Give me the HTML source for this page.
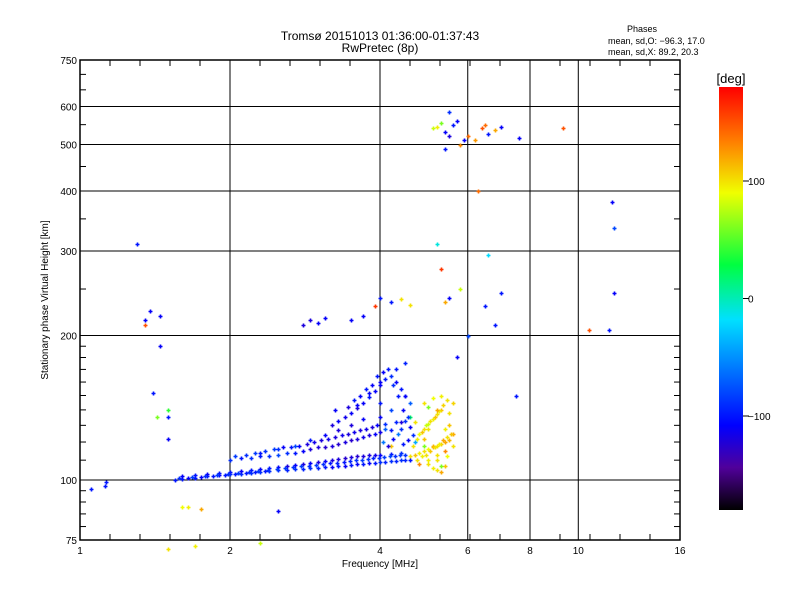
<!DOCTYPE html>
<html><head><meta charset="utf-8"><style>
body{margin:0;background:#fff;}
svg{display:block;font-family:"Liberation Sans",sans-serif;}
</style></head><body>
<svg id="c" width="800" height="600">
<rect x="0" y="0" width="800" height="600" fill="#fff"/>
<defs><linearGradient id="cb" x1="0" y1="1" x2="0" y2="0">
<stop offset="0" stop-color="#000"/><stop offset="0.1" stop-color="#50009a"/><stop offset="0.2" stop-color="#0000ff"/><stop offset="0.45" stop-color="#00e0ff"/><stop offset="0.58" stop-color="#00ff40"/><stop offset="0.75" stop-color="#f0ff00"/><stop offset="0.87" stop-color="#ff8000"/><stop offset="1" stop-color="#ff0000"/></linearGradient></defs>
<text x="380" y="40" font-size="12" text-anchor="middle">Tromsø 20151013 01:36:00-01:37:43</text>
<text x="380" y="52" font-size="12" text-anchor="middle">RwPretec (8p)</text>
<text x="642" y="32" font-size="9" text-anchor="middle">Phases</text>
<text x="608" y="44" font-size="9">mean, sd,O: −96.3, 17.0</text>
<text x="608" y="55" font-size="9">mean, sd,X:  89.2, 20.3</text>
<g id="grid"></g>
<g id="ticks"></g>
<g id="pts"></g>
<rect x="80" y="60" width="600" height="480" fill="none" stroke="#000" stroke-width="1.5"/>
<text x="380" y="567" font-size="10" text-anchor="middle">Frequency [MHz]</text>
<text transform="translate(48,300) rotate(-90)" font-size="10" text-anchor="middle">Stationary phase Virtual Height [km]</text>
<rect x="719" y="87" width="24" height="423" fill="url(#cb)"/>
<text x="731" y="83" font-size="13" text-anchor="middle">[deg]</text>
<g id="cbl"></g>
</svg>
<script>
const xTicks=[1,2,4,6,8,10,16];
const yTicks=[75,100,200,300,400,500,600,750];
const cbTicks=[100,0,-100];
const freqs=[1.05,1.12,1.13,1.3,1.35,1.38,1.4,1.45,1.5,1.5,1.55,1.6,1.65,1.7,1.75,1.8,1.85,1.9,1.95,2.0,2.05,2.1,2.15,2.2,2.25,2.3,2.35,2.4,2.5,2.6,2.7,2.8,2.9,3.0,3.1,3.2,3.3,3.4,3.5,3.6,3.7,3.8,3.9,4.0,4.1,4.2,4.3,4.4,4.5,4.6,
1.6,1.7,1.8,1.9,2.0,2.1,2.2,2.3,2.4,2.5,2.6,2.7,2.8,2.9,3.0,3.1,3.2,3.3,3.4,3.5,3.6,3.7,3.8,3.9,4.0,4.2,4.4,
2.0,2.1,2.2,2.3,2.4,2.5,2.6,2.7,2.8,2.9,3.0,3.1,3.2,3.3,3.4,3.5,3.6,3.7,3.8,3.9,4.0,4.2,4.4,4.6,2.3,2.5,2.7,2.9,3.1,3.3,3.5,3.7,
3.2,3.3,3.4,3.5,3.6,3.7,3.8,3.9,4.0,4.1,4.2,4.3,4.4,4.5,4.6,4.2,4.0,4.0,3.8,4.3,4.5,4.1,3.6,4.4,
4.6,4.7,4.8,4.9,5.0,5.1,5.2,5.3,5.4,5.5,4.8,4.9,5.0,5.1,5.2,5.3,5.0,4.9,5.1,5.3,5.5,5.6,5.4,5.2,5.0,4.8,4.7,4.6,5.5,5.6,4.9,5.2,5.4,5.1,4.7,5.3,
5.1,5.2,5.3,5.4,5.5,5.6,5.7,5.8,6.0,6.2,6.4,6.6,6.8,7.0,5.5,5.9,6.5,6.3,7.6,9.3,5.4,6.6,
1.35,1.45,1.43,1.5,1.6,1.65,1.75,2.5,2.8,2.9,3.0,3.1,3.5,3.7,3.9,4.0,4.2,4.4,4.6,5.2,5.3,5.4,5.5,5.8,6.0,6.5,6.8,7.0,7.5,10.5,11.7,11.8,11.8,11.5,4.0,4.5,1.5,1.7,2.3,5.7,4.2,
1.58,1.68,1.78,1.88,1.98,2.08,2.18,2.28,2.38,2.48,2.58,2.68,2.78,2.88,2.98,3.08,3.18,3.28,3.38,3.48,3.58,3.68,3.78,3.88,3.98,4.08,4.18,4.28,4.38,4.48,
2.05,2.15,2.25,2.35,2.45,2.55,2.65,2.75,2.85,2.95,3.05,3.15,3.25,3.35,3.45,3.55,3.65,3.75,3.85,3.95,4.1,4.3,4.5,
3.25,3.45,3.55,3.65,3.75,3.85,3.95,4.05,4.15,4.25,4.35,4.45,4.55,4.05,4.15,4.25,4.35,4.45,4.55,4.65,
4.65,4.75,4.85,4.95,5.05,5.15,5.25,5.35,5.45,4.75,4.85,4.95,5.05,5.15,5.25,5.35,5.45,5.55,5.0,5.1,5.2,5.3,5.4,4.9,5.0,5.2,5.45,5.6];
const heights=[96,97,99,310,210,225,152,190,135,122,100,100.5,101,101,101.5,102,102,102.5,102.5,103,103,103,103.5,103.5,104,104,104.5,104.5,105,105,105.5,105.5,106,106,106.5,106.5,107,107,107.5,108,108,108.5,108.5,109,109,109.5,109.5,110,110,110,
102,102.5,103,103.5,104,104.5,105,105.5,106,106.5,107,107.5,108,108.5,109,109.5,110,110.5,111,111.5,112,112,112.5,113,113,113.5,114,
110,111,111,112,112,113,114,114,115,116,117,117,118,119,120,121,122,123,124,125,126,127,128,129,114,116,118,121,124,127,130,134,
130,133,135,138,141,145,149,153,158,162,165,160,155,150,145,140,145,135,152,170,175,128,143,132,
112,113,114,115,116,117,118,119,120,121,125,128,131,134,137,140,142,145,148,150,130,125,115,110,110,108,120,135,138,145,122,113,128,118,132,107,
540,545,555,530,520,550,560,500,520,510,540,525,535,545,585,510,550,400,515,540,490,295,
215,220,135,140,88,88,87,86,210,215,212,218,215,220,230,240,235,238,232,310,275,235,240,250,200,230,210,245,150,205,380,335,245,205,160,150,72,73,74,180,118,
101,101.5,102,102.5,103,103.5,104,104.5,105,105.5,106,106.5,107,107,107.5,108,108.5,108.5,109,109.5,110,110,110.5,111,111,111.5,112,112,112.5,113,
112,113,114,115,116,117,117,118,119,120,121,122,123,124,125,126,127,128,129,130,131,132,133,
140,142,147,150,155,158,165,168,170,158,150,140,135,120,118,122,125,119,121,124,
118,122,126,130,133,135,139,143,147,110,112,113,115,117,119,121,123,125,108,106,105,104,107,118,128,140,112,118];
const phases=[-100,-100,-100,-100,150,-110,-100,-110,-100,-110,-100,-100,-110,-100,-110,-100,-100,-110,-100,-90,-100,-90,-100,-90,-100,-90,-100,-90,-90,-95,-90,-95,-90,-95,-100,-110,-100,-110,-100,-110,-100,-110,-100,-90,-95,-90,-95,-90,-95,-100,
-110,-100,-110,-100,-100,-110,-100,-110,-100,-110,-120,-110,-120,-110,-120,-110,-120,-120,-125,-120,-125,-120,-120,-115,-110,-100,-90,
-90,-100,-90,-100,-90,-80,-90,-100,-110,-120,-120,-125,-120,-125,-120,-125,-120,-115,-120,-110,-115,-100,-90,-110,-100,-90,-80,-100,-110,-120,-120,-110,
-120,-110,-115,-110,-120,-110,-100,-110,-110,-100,-90,-110,-100,-90,-70,-80,-100,-110,-110,-100,-95,-70,-110,-120,
100,110,95,100,90,110,100,105,120,115,90,100,80,95,100,110,60,100,90,95,110,120,130,100,95,130,-40,20,100,105,110,100,95,115,100,60,
80,95,60,-110,-120,-100,-110,130,140,125,150,-100,120,-110,-90,-110,140,140,-110,150,-100,-20,
-110,-110,60,40,90,95,120,-110,-120,-120,-110,-110,-110,-110,160,-100,-100,100,100,-10,160,120,-110,80,-80,-100,-100,-100,-100,150,-110,-80,-110,-100,-110,-110,100,95,80,-110,110,
-90,-85,-90,-85,-90,-85,-90,-85,-90,-85,-85,-90,-85,-90,-85,-90,-100,-95,-100,-95,-90,-85,-90,-95,-90,-85,-80,-90,-85,-90,
-85,-90,-85,-90,-85,-110,-100,-110,-120,-115,-120,-115,-120,-115,-120,-115,-120,-115,-120,-110,-90,-95,-90,
-110,-120,-100,-110,-100,-110,-100,-110,-100,-90,-100,-110,-90,-60,-120,-110,-60,-100,-110,-90,
100,95,110,80,100,110,95,105,100,100,95,100,110,100,95,120,100,110,100,95,100,120,110,60,100,120,90,100];
const NS='http://www.w3.org/2000/svg';
function X(f){return 80+150*Math.log2(f);}
function Y(h){return 540-480*Math.log10(h/75);}
function CY(p){return 298.5-p*423/360;}
const stops=[[0,[0,0,0]],[0.1,[80,0,154]],[0.2,[0,0,255]],[0.45,[0,224,255]],[0.58,[0,255,64]],[0.75,[240,255,0]],[0.87,[255,128,0]],[1,[255,0,0]]];
function col(p){let t=Math.max(0,Math.min(1,(p+180)/360));for(let i=1;i<stops.length;i++){if(t<=stops[i][0]){const a=stops[i-1],b=stops[i],u=(t-a[0])/(b[0]-a[0]);return 'rgb('+a[1].map((v,k)=>Math.round(v+(b[1][k]-v)*u)).join(',')+')';}}return 'red';}
function mk(tag,at,parent){const e=document.createElementNS(NS,tag);for(const k in at)e.setAttribute(k,at[k]);parent.appendChild(e);return e;}
const grid=document.getElementById('grid'),ticks=document.getElementById('ticks'),svg=document.getElementById('c');
xTicks.forEach(v=>{const x=X(v);
const l=mk('line',{x1:x,y1:60,x2:x,y2:540,stroke:'#000','stroke-width':1},grid);


const t=mk('text',{x:x,y:554,'font-size':10,'text-anchor':'middle'},svg);t.textContent=v;

});
yTicks.forEach(v=>{const y=Y(v);
if(v>75&&v<750){const l=mk('line',{x1:80,y1:y,x2:680,y2:y,stroke:'#000','stroke-width':1},grid);

}
const t=mk('text',{x:77,y:y+4,'font-size':10,'text-anchor':'end'},svg);t.textContent=v;

});
for(let o=0;o<4;o+=0.2){const f=Math.pow(2,o);if(Math.abs(o-Math.round(o))<0.01)continue;const x=X(f);
mk('line',{x1:x,y1:540,x2:x,y2:534,stroke:'#000'},ticks);mk('line',{x1:x,y1:60,x2:x,y2:66,stroke:'#000'},ticks);}
[80,85,90,95,110,120,130,140,150,160,170,180,190,250,350,450,550,650,700].forEach(h=>{const y=Y(h);mk('line',{x1:80,y1:y,x2:86,y2:y,stroke:'#000'},ticks);mk('line',{x1:674,y1:y,x2:680,y2:y,stroke:'#000'},ticks);});
const pts=document.getElementById('pts');
for(let i=0;i<freqs.length;i++){const x=Math.round(X(freqs[i]))+0.5,y=Math.round(Y(heights[i]))+0.5,c=col(phases[i]);
const g=mk('path',{d:`M${x-2} ${y}h4M${x} ${y-2}v4`,stroke:c,'stroke-width':1.6,fill:'none'},pts);

}
const cbl=document.getElementById('cbl');
cbTicks.forEach(v=>{const y=CY(v);mk('line',{x1:743,y1:y,x2:749,y2:y,stroke:'#000'},cbl);
const t=mk('text',{x:748,y:y+4,'font-size':10},cbl);t.textContent=v<0?'−'+(-v):v;

});
</script>
</body></html>
